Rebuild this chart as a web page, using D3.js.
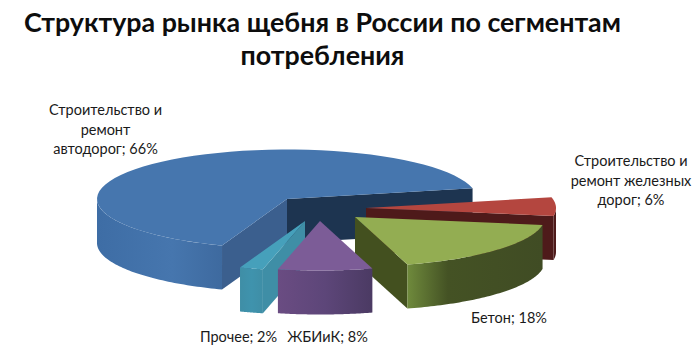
<!DOCTYPE html>
<html>
<head>
<meta charset="utf-8">
<script src="https://cdnjs.cloudflare.com/ajax/libs/d3/7.8.5/d3.min.js"></script>
<style>
html, body { margin: 0; padding: 0; background: #fff; }
text { font-family: Lato, "Open Sans", sans-serif; fill: #1a1a1a; }
</style>
</head>
<body>
<div id="chart"></div>
<script>
const titleLines = ["Структура рынка щебня в России по сегментам", "потребления"]
const categories = ["Строительство и ремонт автодорог", "Строительство и ремонт железных дорог", "Бетон", "ЖБИиК", "Прочее"]
const values = [66, 6, 18, 8, 2]
const labelLines = [
    ["Строительство и", "ремонт", "автодорог; 66%"],
    ["Строительство и", "ремонт железных", "дорог; 6%"],
    ["Бетон; 18%"],
    ["ЖБИиК; 8%"],
    ["Прочее; 2%"]
]

const topColors = ["#4676ae", "#b4463f", "#93ad52", "#7c5c97", "#46a0bb"]
const sideColors = ["#3b5f8e", "#4e1a1a", "#43501f", "#4b3a63", "#3f8ea6"]
const backColors = ["#1d3450", "#4e1a1a", "#43501f", "#4b3a63", "#3f8ea6"]
const wallFrom = ["#3e6da5", "#4e1a1a", "#6f8a3c", "#6a4c82", "#3f8ea6"]
const wallMid = ["#4676ae", "#4e1a1a", "#445224", "#5d4679", "#3f93ad"]
const wallTo = ["#3e6a9f", "#4e1a1a", "#404c24", "#4b3a63", "#3f8ea6"]
const wallMidAt = ["60%", "50%", "30%", "50%", "50%"]
const explodeX = [0, 79, 68, 33, 18]
const explodeY = [0, 9, 18, 22, 22]
const labelX = [105.5, 631, 509, 327.5, 238.5]
const labelY = [115, 166, 323, 342, 342]

const width = 700, height = 363
const cx = 287, cy = 199, rx = 190, ry = 49.5, depth = 44
const toRad = Math.PI / 180

const svg = d3.select("#chart").append("svg")
    .attr("width", width)
    .attr("height", height)
    .style("display", "block")

const x = d3.scaleLinear().domain([-1, 1]).range([cx - rx, cx + rx])
const y = d3.scaleLinear().domain([-1, 1]).range([cy - ry, cy + ry])

const pie = d3.pie().sort(null).value(d => d)
    .startAngle(200 * toRad)
    .endAngle(560 * toRad)
const slices = pie(values)

const line = d3.line().x(d => d[0]).y(d => d[1])

const rim = (a, i, drop = 0) => [x(Math.sin(a)) + explodeX[i], y(-Math.cos(a)) + explodeY[i] + drop]
const apex = (i, drop = 0) => [x(0) + explodeX[i], y(0) + explodeY[i] + drop]
const arcPoints = (a0, a1, i, drop = 0) => d3.range(0, 61).map(k => rim(a0 + (a1 - a0) * k / 60, i, drop))

const defs = svg.append("defs")
function wallGradient(i, x0, x1) {
    const g = defs.append("linearGradient")
        .attr("id", `wall${i}`)
        .attr("gradientUnits", "userSpaceOnUse")
        .attr("x1", x0).attr("x2", x1).attr("y1", 0).attr("y2", 0)
    g.append("stop").attr("offset", "0%").attr("stop-color", wallFrom[i])
    g.append("stop").attr("offset", wallMidAt[i]).attr("stop-color", wallMid[i])
    g.append("stop").attr("offset", "100%").attr("stop-color", wallTo[i])
}

function drawSlice(i) {
    const s = slices[i]
    const g = svg.append("g").attr("class", "slice")
    const a0 = s.startAngle, a1 = s.endAngle
    const norm = a => ((a % (2 * Math.PI)) + 2 * Math.PI) % (2 * Math.PI)

    // radial wall at the end of the slice, seen when it faces the viewer
    if (Math.sin(norm(a1)) > 0) {
        g.append("path")
            .attr("d", line([apex(i), rim(a1, i), rim(a1, i, depth), apex(i, depth)]) + "Z")
            .attr("fill", backColors[i])
    }
    // radial wall at the start
    if (Math.sin(norm(a0)) < 0) {
        g.append("path")
            .attr("d", line([apex(i), rim(a0, i), rim(a0, i, depth), apex(i, depth)]) + "Z")
            .attr("fill", sideColors[i])
    }
    // outer wall, only the front half of the rim
    const lo = Math.max(norm(a0), 90 * toRad)
    const hi = Math.min(norm(a0) + (a1 - a0), 270 * toRad)
    if (hi > lo) {
        const top = arcPoints(lo, hi, i)
        const bottom = arcPoints(hi, lo, i, depth)
        const xs = d3.extent(top, d => d[0])
        wallGradient(i, xs[0], xs[1])
        g.append("path")
            .attr("d", line(top.concat(bottom)) + "Z")
            .attr("fill", `url(#wall${i})`)
    }
    g.append("path")
        .attr("d", line([apex(i)].concat(arcPoints(a0, a1, i))) + "Z")
        .attr("fill", topColors[i])
}

// back to front
;[0, 1, 2, 4, 3].forEach(drawSlice)

svg.append("g").selectAll("text")
    .data(titleLines)
    .enter()
    .append("text")
    .attr("x", 322.5)
    .attr("y", (d, i) => 32 + i * 33)
    .attr("text-anchor", "middle")
    .attr("font-size", 26.8)
    .attr("font-weight", 700)
    .style("fill", "#0d0d0d")
    .text(d => d)

labelLines.forEach((lines, i) => {
    svg.append("g").selectAll("text")
        .data(lines)
        .enter()
        .append("text")
        .attr("x", labelX[i])
        .attr("y", (d, k) => labelY[i] + k * 19.6)
        .attr("text-anchor", "middle")
        .attr("font-size", 14.5)
        .text(d => d)
})
</script>
</body>
</html>
